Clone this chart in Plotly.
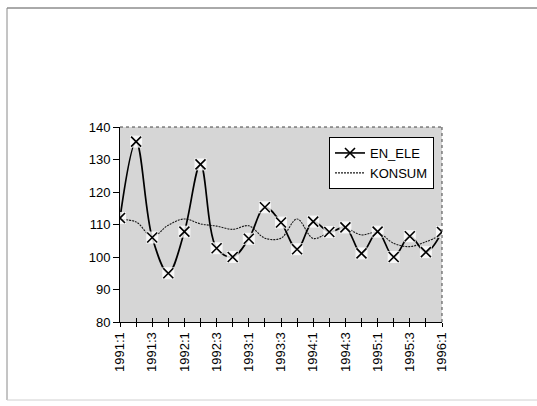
import plotly.graph_objects as go

quarters = ["1991:1", "1991:2", "1991:3", "1991:4", "1992:1", "1992:2", "1992:3", "1992:4",
            "1993:1", "1993:2", "1993:3", "1993:4", "1994:1", "1994:2", "1994:3", "1994:4",
            "1995:1", "1995:2", "1995:3", "1995:4", "1996:1"]
en_ele = [112.0, 135.5, 106.0, 95.0, 107.8, 128.5, 102.7, 100.0, 105.6, 115.3, 110.6, 102.4,
          110.9, 107.7, 109.1, 101.1, 107.8, 100.0, 106.4, 101.5, 107.7]
konsum = [111.5, 110.8, 106.3, 109.8, 111.7, 110.2, 109.5, 108.5, 109.6, 105.8, 105.8, 111.7,
          105.7, 107.6, 108.8, 106.8, 107.6, 104.2, 103.2, 104.7, 106.8]
y_ticks = [80, 90, 100, 110, 120, 130, 140]

W, H = 537, 406
ML, MR, MT, MB = 120, 95, 127, 84
pw, ph = W - ML - MR, H - MT - MB

def px(x):
    return (x - ML) / pw

def py(y):
    return (H - MB - y) / ph

idx = list(range(len(quarters)))
ticktext = [q if i % 2 == 0 else "" for i, q in enumerate(quarters)]
FONT = "Liberation Sans, Arial, sans-serif"

fig = go.Figure()
fig.add_trace(go.Scatter(x=idx, y=konsum, mode="lines", name="KONSUM",
                         line=dict(color="#1a1a1a", width=1.1, dash="2px,1px", shape="spline", smoothing=1.0),
                         legendrank=2))
fig.add_trace(go.Scatter(x=idx, y=en_ele, mode="lines", showlegend=False,
                         line=dict(color="black", width=1.7, shape="spline", smoothing=1.0)))
fig.add_trace(go.Scatter(x=idx, y=en_ele, mode="markers", showlegend=False, xaxis="x2",
                         marker=dict(symbol="square", size=12, color="rgba(255,255,255,0.8)",
                                     line=dict(width=0))))
fig.add_trace(go.Scatter(x=idx, y=en_ele, mode="markers", showlegend=False, xaxis="x2",
                         marker=dict(symbol="x-thin", size=10, color="black",
                                     line=dict(color="black", width=1.6))))
fig.add_trace(go.Scatter(x=[None], y=[None], mode="lines+markers", name="EN_ELE",
                         line=dict(color="black", width=1.6),
                         marker=dict(symbol="x-thin", size=10, color="black",
                                     line=dict(color="black", width=1.6)),
                         legendrank=1))

fig.update_layout(
    width=W, height=H,
    margin=dict(l=ML, r=MR, t=MT, b=MB),
    paper_bgcolor="white",
    plot_bgcolor="#d6d6d6",
    font=dict(family=FONT, size=13, color="black"),
    xaxis=dict(range=[0, len(quarters) - 1], tickvals=idx, ticktext=ticktext,
               tickangle=-90, ticks="outside", ticklen=4, tickcolor="black", tickwidth=1,
               showline=True, linecolor="black", linewidth=1, showgrid=False, zeroline=False,
               tickfont=dict(family=FONT, size=13)),
    xaxis2=dict(range=[0, len(quarters) - 1], tickvals=idx, overlaying="x", anchor="y",
                side="bottom", ticks="inside", ticklen=4, tickcolor="black",
                showticklabels=False, showline=False, showgrid=False, zeroline=False),
    yaxis=dict(range=[80, 140], tickvals=y_ticks, ticks="outside", ticklen=6,
               tickcolor="black", showline=True, linecolor="black", linewidth=1,
               showgrid=False, zeroline=False, tickfont=dict(family=FONT, size=13)),
    legend=dict(x=px(329), y=py(137), xanchor="left", yanchor="top",
                bgcolor="white", bordercolor="black", borderwidth=1,
                font=dict(family=FONT, size=13), tracegroupgap=0,
                itemwidth=30),
    showlegend=True,
)

# dotted top and right border of the plot area
fig.add_shape(type="line", xref="paper", yref="paper", x0=0, x1=1, y0=1, y1=1,
              line=dict(color="#444444", width=1, dash="dot"))
fig.add_shape(type="line", xref="paper", yref="paper", x0=1, x1=1, y0=0, y1=1,
              line=dict(color="#444444", width=1, dash="dot"))
# outer chart frame
fig.add_shape(type="line", xref="paper", yref="paper", x0=px(7), x1=px(537), y0=py(8), y1=py(8),
              line=dict(color="#555555", width=1))
fig.add_shape(type="line", xref="paper", yref="paper", x0=px(7), x1=px(7), y0=py(8), y1=py(400),
              line=dict(color="#8a8a8a", width=1))
fig.add_shape(type="line", xref="paper", yref="paper", x0=px(7), x1=px(537), y0=py(400), y1=py(400),
              line=dict(color="#d0d0d0", width=1))

fig.write_html("out.html")
